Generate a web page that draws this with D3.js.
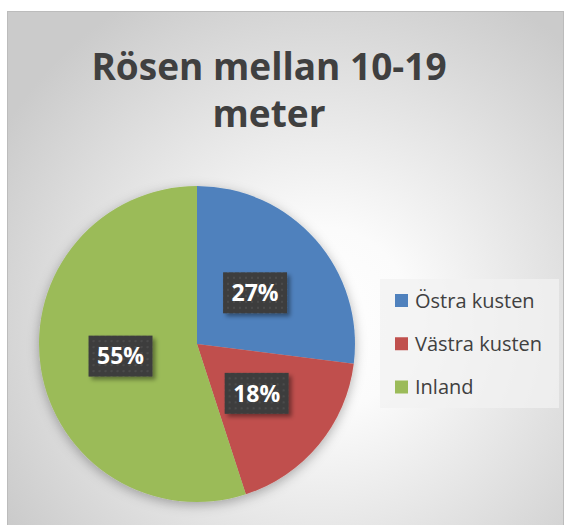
<!DOCTYPE html>
<html>
<head>
<meta charset="utf-8">
<script src="https://cdn.jsdelivr.net/npm/d3@7"></script>
<style>
body { margin: 0; background: #ffffff; }
svg { display: block; }
</style>
</head>
<body>
<svg id="chart" width="564" height="525"></svg>
<script>
// data
var regions = ["Östra kusten", "Västra kusten", "Inland"];
var shares = [27, 18, 55];
var colors = ["#4f81bd", "#c0504d", "#9bbb59"];
var titleLines = ["Rösen mellan 10-19", "meter"];

var svg = d3.select("#chart");
var defs = svg.append("defs");

var bg = defs.append("radialGradient")
  .attr("id", "bg")
  .attr("gradientUnits", "userSpaceOnUse")
  .attr("cx", 320).attr("cy", 320).attr("r", 370);
bg.append("stop").attr("offset", "0%").attr("stop-color", "#ffffff");
bg.append("stop").attr("offset", "25%").attr("stop-color", "#fbfbfb");
bg.append("stop").attr("offset", "100%").attr("stop-color", "#cbcbcb");

var shadow = defs.append("filter").attr("id", "shadow")
  .attr("x", "-20%").attr("y", "-20%").attr("width", "140%").attr("height", "140%");
shadow.append("feDropShadow")
  .attr("dx", 0).attr("dy", 3).attr("stdDeviation", 6)
  .attr("flood-color", "#000").attr("flood-opacity", 0.3);

var lblShadow = defs.append("filter").attr("id", "lblshadow")
  .attr("x", "-20%").attr("y", "-20%").attr("width", "150%").attr("height", "150%");
lblShadow.append("feDropShadow")
  .attr("dx", 3).attr("dy", 3).attr("stdDeviation", 2)
  .attr("flood-color", "#000").attr("flood-opacity", 0.4);

var dots = defs.append("pattern").attr("id", "dots")
  .attr("patternUnits", "userSpaceOnUse").attr("width", 6).attr("height", 6);
dots.append("rect").attr("width", 6).attr("height", 6).attr("fill", "#3d3d3d");
dots.append("rect").attr("x", 2).attr("y", 2).attr("width", 2).attr("height", 2).attr("fill", "#4c4c4c");

// chart frame
svg.append("rect")
  .attr("x", 7.5).attr("y", 11.5)
  .attr("width", 556).attr("height", 520)
  .attr("fill", "url(#bg)")
  .attr("stroke", "#bcbcbc");

// title
svg.append("text")
  .attr("x", 269).attr("y", 80)
  .attr("text-anchor", "middle")
  .attr("font-family", "'Open Sans', sans-serif")
  .attr("font-weight", "bold")
  .attr("font-size", "37px")
  .attr("fill", "#404040")
  .selectAll("tspan")
  .data(titleLines)
  .enter()
  .append("tspan")
  .attr("x", 269)
  .attr("dy", function (d, i) { return i === 0 ? 0 : 47; })
  .text(function (d) { return d; });

// pie
var radius = 158;
var g = svg.append("g").attr("transform", "translate(197,344)");

var pie = d3.pie().sort(null).value(function (d) { return d; });
var arc = d3.arc().innerRadius(0).outerRadius(radius);
var labelArc = d3.arc().innerRadius(radius * 0.49).outerRadius(radius * 0.49);
var total = d3.sum(shares);
var arcs = pie(shares);

g.append("g")
  .attr("filter", "url(#shadow)")
  .selectAll("path")
  .data(arcs)
  .enter()
  .append("path")
  .attr("d", arc)
  .attr("fill", function (d, i) { return colors[i]; });

var labels = g.selectAll(".lbl")
  .data(arcs)
  .enter()
  .append("g")
  .attr("class", "lbl")
  .attr("transform", function (d) { return "translate(" + labelArc.centroid(d) + ")"; });

labels.append("rect")
  .attr("x", -32).attr("y", -20.5)
  .attr("width", 64).attr("height", 41)
  .attr("fill", "url(#dots)")
  .attr("filter", "url(#lblshadow)");

labels.append("text")
  .attr("text-anchor", "middle")
  .attr("dy", "0.36em")
  .attr("font-family", "'Open Sans', sans-serif")
  .attr("font-weight", "bold")
  .attr("font-size", "23px")
  .attr("fill", "#ffffff")
  .text(function (d) { return Math.round(d.value / total * 100) + "%"; });

// legend
var legend = svg.append("g");
legend.append("rect")
  .attr("x", 380).attr("y", 279)
  .attr("width", 179).attr("height", 129)
  .attr("fill", "#f2f2f2").attr("fill-opacity", 0.75);

var yLegend = d3.scalePoint().domain(regions).range([300.5, 387]);

var items = legend.selectAll(".item")
  .data(regions)
  .enter()
  .append("g")
  .attr("class", "item")
  .attr("transform", function (d) { return "translate(395," + yLegend(d) + ")"; });

items.append("rect")
  .attr("x", 0).attr("y", -6.5)
  .attr("width", 13).attr("height", 13)
  .attr("fill", function (d, i) { return colors[i]; });

items.append("text")
  .attr("x", 20)
  .attr("dy", "0.36em")
  .attr("font-family", "'Open Sans', sans-serif")
  .attr("font-size", "20px")
  .attr("fill", "#404040")
  .text(function (d) { return d; });
</script>
</body>
</html>
